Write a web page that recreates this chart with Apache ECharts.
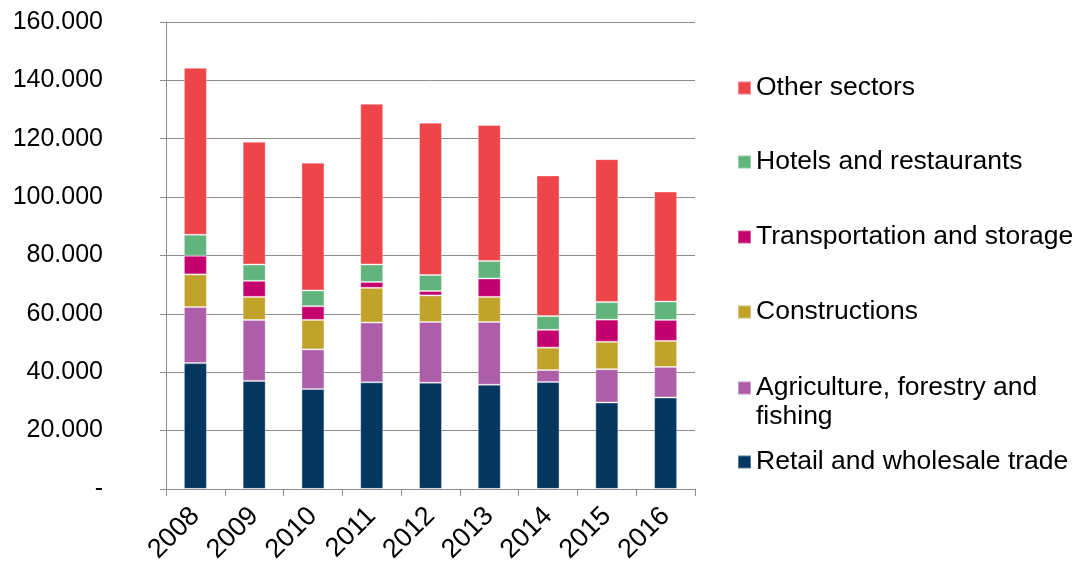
<!DOCTYPE html>
<html>
<head>
<meta charset="utf-8">
<title>Employment by sector, 2008–2016</title>
<script src="https://cdn.jsdelivr.net/npm/echarts@6/dist/echarts.min.js"></script>
<style>
  html, body { margin: 0; padding: 0; background: #ffffff; }
  #chart { width: 1085px; height: 566px; }
</style>
</head>
<body>
<div id="chart"></div>
<script>
// Years on the category axis
const years = ['2008', '2009', '2010', '2011', '2012', '2013', '2014', '2015', '2016'];

// Stacked series, bottom to top
const retail      = [43100, 37000, 34200, 36500, 36400, 35700, 36600, 29600, 31300];
const agriculture = [19200, 20900, 13600, 20500, 20800, 21500,  4100, 11400, 10500];
const construct   = [11200,  7900, 10100, 11900,  9100,  8600,  7700,  9400,  8900];
const transport   = [ 6400,  5500,  4700,  2000,  1500,  6300,  6100,  7600,  7200];
const hotels      = [ 7200,  5600,  5400,  6000,  5500,  6000,  4700,  6000,  6300];
const other       = [57200, 42100, 43800, 55100, 52200, 46600, 48200, 49000, 37700];

const seriesNames = [
  'Retail and wholesale trade',
  'Agriculture, forestry and fishing',
  'Constructions',
  'Transportation and storage',
  'Hotels and restaurants',
  'Other sectors'
];
const seriesValues = [retail, agriculture, construct, transport, hotels, other];
const seriesColors = ['#03375F', '#AD5EA8', '#C1A32B', '#C4006E', '#62B47D', '#EE4549'];

// Y axis tick values
const yMin = 0, yMax = 160000, yStep = 20000;

const FONT = '"Liberation Sans", Arial, sans-serif';
const FS = 25;
const LEGEND_FS = 26.5;

function thousands(v) {
  if (v === 0) return '-';
  return String(v).replace(/\B(?=(\d{3})+(?!\d))/g, '.');
}

// One legend block per series, listed top-down in reverse stacking order.
// The two-line entry gets a blank leading line so its first line sits beside the swatch.
const legendCenters = [462, 388, 312, 237, 162, 88];
const LH = 29;
const legends = seriesNames.map((name, i) => {
  const twoLine = name.indexOf('fishing') >= 0;
  return {
    data: [name],
    left: 737,
    top: twoLine ? legendCenters[i] - 1.5 * LH : legendCenters[i] - LH / 2,
    padding: 0,
    orient: 'vertical',
    icon: 'rect',
    itemWidth: 13,
    itemHeight: 13,
    selectedMode: false,
    formatter: twoLine ? ' \nAgriculture, forestry and\nfishing' : '{name}',
    textStyle: {
      fontFamily: FONT,
      fontSize: LEGEND_FS,
      color: '#000',
      lineHeight: LH
    }
  };
});

const chart = echarts.init(document.getElementById('chart'), null, { renderer: 'canvas' });

chart.setOption({
  animation: false,
  backgroundColor: '#ffffff',
  grid: { left: 166, right: 390, top: 22, bottom: 76, containLabel: false },
  legend: legends,
  xAxis: {
    type: 'category',
    data: years,
    axisLine: { show: true, lineStyle: { color: '#8c8c8c', width: 1 } },
    axisTick: { show: true, alignWithLabel: false, length: 7, lineStyle: { color: '#8c8c8c' } },
    axisLabel: {
      rotate: 45,
      margin: 23,
      fontFamily: FONT,
      fontSize: 27,
      color: '#000'
    }
  },
  yAxis: {
    type: 'value',
    min: yMin,
    max: yMax,
    interval: yStep,
    axisLine: { show: true, lineStyle: { color: '#8c8c8c', width: 1 } },
    axisTick: { show: true, length: 6, lineStyle: { color: '#8c8c8c' } },
    splitLine: { show: true, lineStyle: { color: '#8c8c8c', width: 1 } },
    axisLabel: {
      margin: 63,
      fontFamily: FONT,
      fontSize: FS,
      color: '#000',
      formatter: thousands
    }
  },
  series: seriesNames.map((name, i) => ({
    name: name,
    type: 'bar',
    stack: 'total',
    barWidth: 23,
    data: seriesValues[i],
    itemStyle: {
      color: seriesColors[i],
      borderColor: 'rgba(255,255,255,0.35)',
      borderWidth: 1
    }
  }))
});
</script>
</body>
</html>
